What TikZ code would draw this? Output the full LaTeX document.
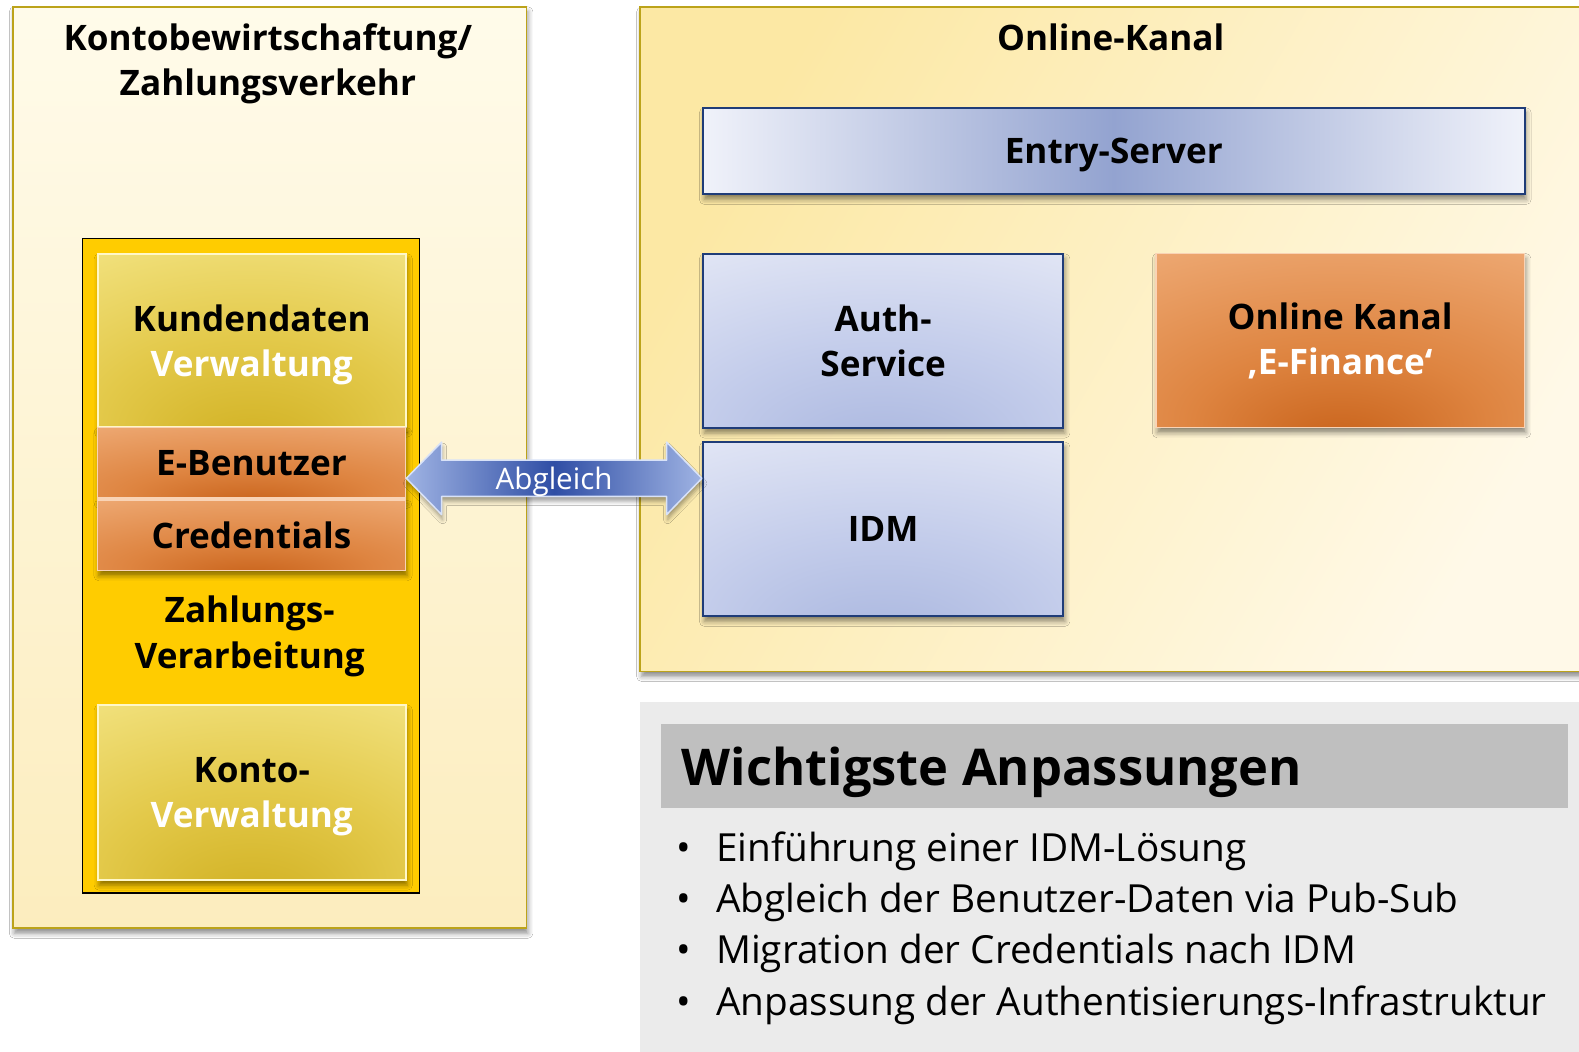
\documentclass[tikz,border=0pt]{standalone}
\usepackage{fontspec}
\setmainfont{Open Sans}
\usetikzlibrary{shadows.blur,calc}

\definecolor{framecol}{HTML}{BCA31A}
\definecolor{creamtop}{HTML}{FFFBEA}
\definecolor{creambot}{HTML}{FCEDBE}
\definecolor{creamdeep}{HTML}{FCE8A4}
\definecolor{creamlite}{HTML}{FFF9E8}
\definecolor{signal}{HTML}{FFCC00}
\definecolor{bluerim}{HTML}{1F3C78}
\definecolor{bluepale}{HTML}{F0F2FA}
\definecolor{bluemid}{HTML}{93A3D0}
\definecolor{arrowdark}{HTML}{2F4EA5}
\definecolor{arrowlite}{HTML}{9FB3E3}
\definecolor{arrowrim}{HTML}{D8E2F8}
\definecolor{goldrim}{HTML}{FFF7C8}
\definecolor{orangerim}{HTML}{F9D3B5}
\definecolor{panelgray}{HTML}{EBEBEB}
\definecolor{headgray}{HTML}{BFBFBF}

% soft glow fills, darkest at the lower middle
\pgfdeclareradialshading{goldfill}{\pgfpoint{0bp}{-35bp}}{%
  color(0bp)=(rgb,255:red,207;green,174;blue,30);
  color(25bp)=(rgb,255:red,227;green,201;blue,74);
  color(55bp)=(rgb,255:red,246;green,233;blue,142);
  color(80bp)=(rgb,255:red,250;green,242;blue,176)}
\pgfdeclareradialshading{orangefill}{\pgfpoint{0bp}{-30bp}}{%
  color(0bp)=(rgb,255:red,200;green,98;blue,26);
  color(20bp)=(rgb,255:red,222;green,132;blue,64);
  color(45bp)=(rgb,255:red,236;green,165;blue,110);
  color(65bp)=(rgb,255:red,247;green,203;blue,168);
  color(90bp)=(rgb,255:red,249;green,212;blue,182)}
\pgfdeclareradialshading{bluefill}{\pgfpoint{0bp}{-35bp}}{%
  color(0bp)=(rgb,255:red,168;green,181;blue,222);
  color(25bp)=(rgb,255:red,196;green,205;blue,235);
  color(50bp)=(rgb,255:red,226;green,230;blue,245);
  color(75bp)=(rgb,255:red,242;green,244;blue,251);
  color(95bp)=(rgb,255:red,245;green,246;blue,252)}

\newcommand\lblfont{\bfseries\fontsize{35}{45}\selectfont}
\newcommand\listfont{\fontsize{38.6}{51}\selectfont}

\tikzset{
  softshadow/.style={blur shadow={shadow xshift=1.5bp,shadow yshift=-5bp,
      shadow blur radius=5bp,shadow opacity=45}},
  frame/.style={anchor=north west,inner sep=0pt,draw=framecol,line width=1.5bp,softshadow},
  tile/.style 2 args={anchor=north west,inner sep=0pt,minimum width=#1,
      minimum height=#2,align=center,font=\lblfont,softshadow},
  goldtile/.style={shading=goldfill,draw=goldrim,line width=2bp},
  orangetile/.style={shading=orangefill,draw=orangerim,line width=1.5bp},
  bluetile/.style={shading=bluefill,draw=bluerim,line width=2bp},
  listline/.style={anchor=base west,inner sep=0pt,font=\listfont},
}

\begin{document}
\begin{tikzpicture}[x=1bp,y=-1bp]
\useasboundingbox[fill=white] (0,0) rectangle (1568,1044);

% ---- Kontobewirtschaftung / Zahlungsverkehr ----
\node[frame,minimum width=510bp,minimum height=915bp,
      top color=creamtop,bottom color=creambot] (kz) at (12,6) {};
\node[font=\lblfont,align=center] (kztitle) at (266,63)
  {Kontobewirtschaftung/\\Zahlungsverkehr};

\node[anchor=north west,inner sep=0pt,minimum width=335bp,minimum height=650bp,
      fill=signal,draw=black,line width=1.5bp] (zv) at (81,236) {};

\node[tile={306bp}{172bp},goldtile,text depth=0pt] (kd) at (96,251)
  {Kundendaten\\\textcolor{white}{Verwaltung}};
\node[tile={306bp}{70bp},orangetile] (eb) at (96,424) {E-Benutzer};
\node[tile={306bp}{70bp},orangetile] (cr) at (96,496) {Credentials};
\node[font=\lblfont,align=center] (zvtext) at (248,632)
  {Zahlungs-\\Verarbeitung};
\node[tile={306bp}{174bp},goldtile,text depth=0pt] (kv) at (96,699)
  {Konto-\\\textcolor{white}{Verwaltung}};

% ---- Online-Kanal ----
\node[frame,minimum width=945bp,minimum height=660bp,
      left color=creamdeep,right color=creamlite,shading angle=60] (ok) at (635,6) {};
\node[font=\lblfont] (oktitle) at (1103,37) {Online-Kanal};

\node[tile={816bp}{86bp},draw=bluerim,line width=2bp,text depth=0pt,
      left color=bluepale,right color=bluepale,middle color=bluemid] (es) at (697,106)
  {Entry-Server};
\node[tile={358bp}{173bp},bluetile] (auth) at (697,251) {Auth-\\Service};
\node[tile={358bp}{173bp},bluetile] (idm) at (697,438) {IDM};
\node[tile={366bp}{173bp},orangetile] (ef) at (1147,251)
  {Online Kanal\\\textcolor{white}{‚E-Finance‘}};

% ---- Abgleich: double arrow between E-Benutzer and IDM ----
\coordinate (aL) at (eb.east |- 0,475);
\coordinate (aR) at (idm.west |- 0,475);
\path[left color=arrowlite,right color=arrowlite,middle color=arrowdark,
      draw=arrowrim,line width=1.5bp,line join=round,
      blur shadow={shadow xshift=1bp,shadow yshift=-5bp,shadow blur radius=4bp,shadow opacity=35}]
  (aL) -- ($(aL)+(35,-36)$) -- ($(aL)+(35,-18)$) -- ($(aR)+(-35,-18)$)
  -- ($(aR)+(-35,-36)$) -- (aR) -- ($(aR)+(-35,36)$) -- ($(aR)+(-35,18)$)
  -- ($(aL)+(35,18)$) -- ($(aL)+(35,36)$) -- cycle;
\node[font=\fontsize{29.5}{36}\selectfont,text=white,text depth=0pt] (abg)
  at ($(aL)!0.5!(aR)$) {Abgleich};

% ---- Wichtigste Anpassungen ----
\node[anchor=north west,inner sep=0pt,minimum width=945bp,minimum height=347bp,
      fill=panelgray] (panel) at (635,697) {};
\node[anchor=north west,inner sep=0pt,minimum width=901bp,minimum height=83bp,
      fill=headgray] (head) at (656,719) {};
\node[anchor=base west,inner sep=0pt,font=\bfseries\fontsize{50.5}{60}\selectfont]
  (headtext) at (677,780) {Wichtigste Anpassungen};

\foreach \t [count=\i] in {Einführung einer IDM-Lösung,
    Abgleich der Benutzer-Daten via Pub-Sub,
    Migration der Credentials nach IDM,
    Anpassung der Authentisierungs-Infrastruktur}{
  \node[listline] (dot\i) at (672,855+51*\i-51) {•};
  \node[listline] (item\i) at (711,855+51*\i-51) {\t};
}
\end{tikzpicture}
\end{document}
